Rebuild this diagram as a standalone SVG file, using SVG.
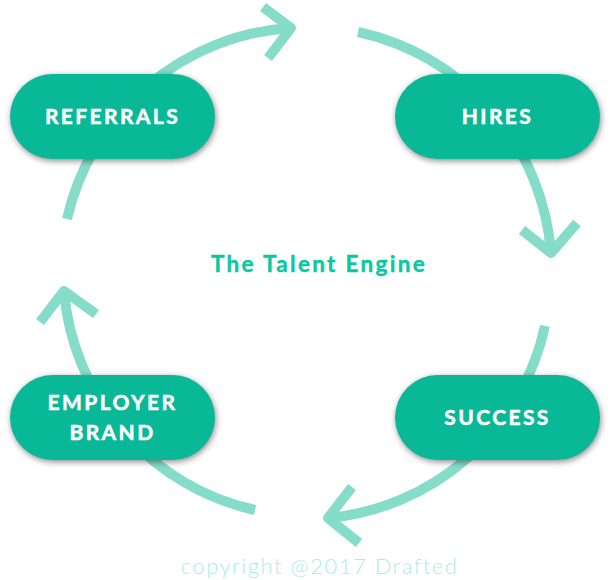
<svg xmlns="http://www.w3.org/2000/svg" width="610" height="580" viewBox="0 0 610 580">
<defs>
<style>
.arc{fill:none;stroke:#85dcc9;stroke-width:10;stroke-linejoin:round}
.pill{fill:#09b897;filter:url(#sh)}
.lbl{font-family:"Lato","Liberation Sans",sans-serif;font-weight:700;font-size:21px;letter-spacing:2.4px;fill:#fff;stroke:#fff;stroke-width:.5px;text-anchor:middle}
.title{font-family:"Lato","Liberation Sans",sans-serif;font-weight:700;font-size:22.500px;letter-spacing:2.300px;fill:#07c8a0;stroke:#07c8a0;stroke-width:.4px;text-anchor:middle}
.copy{font-family:"Lato","Liberation Sans",sans-serif;font-weight:300;font-size:22px;letter-spacing:1.500px;fill:#a8efde;text-anchor:middle}
</style>
<filter id="sh" x="-10%" y="-20%" width="120%" height="150%" color-interpolation-filters="sRGB"><feDropShadow dx="1" dy="2" stdDeviation="3" flood-color="#000" flood-opacity="0.45"/></filter>
</defs>
<rect width="610" height="580" fill="#fff"/>
<g id="connectors">
<path class="arc" d="M67 219A245 245 0 0 1 291 28"/>
<path class="arc" d="M263 7L291 28L268 58"/>
<path class="arc" d="M358 32A245 245 0 0 1 551 253"/>
<path class="arc" d="M522 230L551 253L577 223"/>
<path class="arc" d="M545 326A245 245 0 0 1 328 518"/>
<path class="arc" d="M352 487L328 518L359 543"/>
<path class="arc" d="M255 510A245 245 0 0 1 64 291"/>
<path class="arc" d="M40 322L64 291L96 314"/>
</g>
<g id="referrals"><rect class="pill" x="10" y="74" width="205" height="85" rx="42.5"/><text class="lbl" x="112.500" y="124">REFERRALS</text></g>
<g id="hires"><rect class="pill" x="395" y="74" width="205" height="85" rx="42.500"/><text class="lbl" x="497.500" y="124">HIRES</text></g>
<g id="success"><rect class="pill" x="395" y="375" width="205" height="85" rx="42.500"/><text class="lbl" x="497.500" y="425">SUCCESS</text></g>
<g id="employer-brand"><rect class="pill" x="10" y="375" width="205" height="85" rx="42.500"/><text class="lbl" x="112.500" y="410">EMPLOYER</text><text class="lbl" x="112.500" y="440">BRAND</text></g>
<text id="title" class="title" x="319" y="272">The Talent Engine</text>
<text id="copyright" class="copy" x="319.500" y="574">copyright @2017 Drafted</text>
</svg>
